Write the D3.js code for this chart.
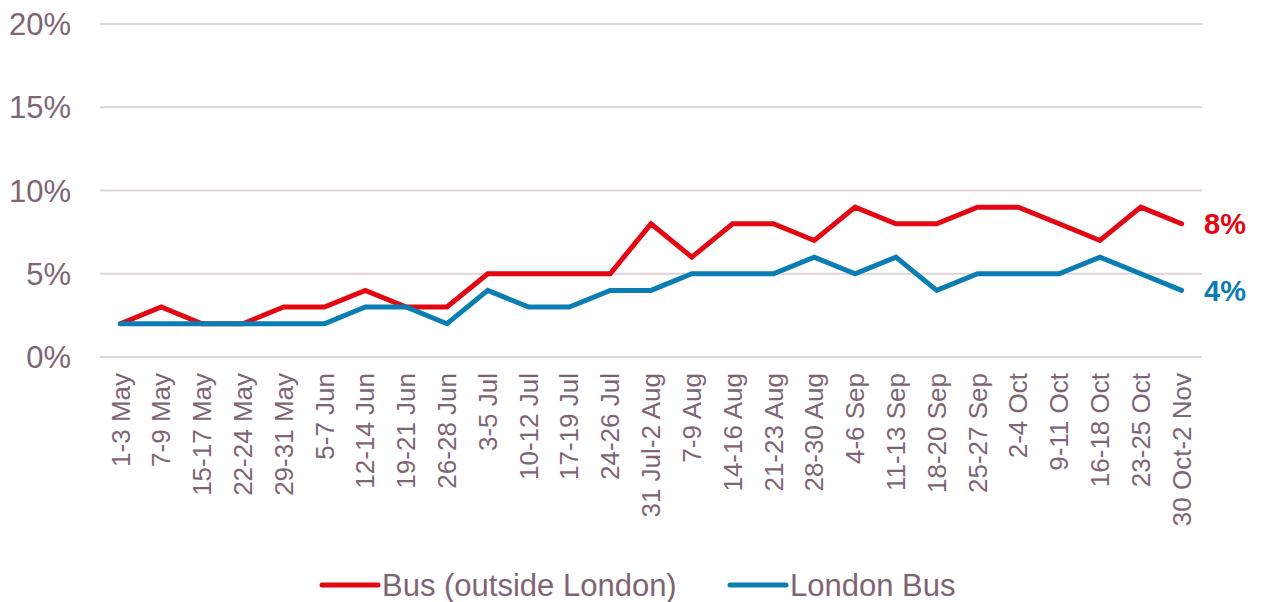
<!DOCTYPE html>
<meta charset="utf-8">
<script src="https://d3js.org/d3.v7.min.js"></script>
<style>
  body { margin: 0; background: #fff; }
  text { font-family: "Liberation Sans", Arial, sans-serif; }
</style>
<div id="chart"></div>
<script>

// week labels
var weeks = ["1-3 May", "7-9 May", "15-17 May", "22-24 May", "29-31 May", "5-7 Jun",
  "12-14 Jun", "19-21 Jun", "26-28 Jun", "3-5 Jul", "10-12 Jul", "17-19 Jul",
  "24-26 Jul", "31 Jul-2 Aug", "7-9 Aug", "14-16 Aug", "21-23 Aug", "28-30 Aug",
  "4-6 Sep", "11-13 Sep", "18-20 Sep", "25-27 Sep", "2-4 Oct", "9-11 Oct",
  "16-18 Oct", "23-25 Oct", "30 Oct-2 Nov"];

// % values
var busOutside = [2, 3, 2, 2, 3, 3, 4, 3, 3, 5, 5, 5, 5, 8, 6, 8, 8, 7, 9, 8, 8, 9, 9, 8, 7, 9, 8];
var londonBus  = [2, 2, 2, 2, 2, 2, 3, 3, 2, 4, 3, 3, 4, 4, 5, 5, 5, 6, 5, 6, 4, 5, 5, 5, 6, 5, 4];

var yTicks = [0, 5, 10, 15, 20];
var seriesNames = ["Bus (outside London)", "London Bus"];

var W = 1267, H = 602;
var red = "#e30613", blue = "#0a7db3", textCol = "#7e6574", gridCol = "#ddd5d8";

var svg = d3.select("#chart").append("svg")
    .attr("width", W)
    .attr("height", H);

var x = d3.scaleBand().domain(weeks).range([100, 1202]);
var y = d3.scaleLinear().domain([0, 20]).range([357, 24]);
var cx = function(d) { return x(d) + x.bandwidth() / 2; };

// gridlines
svg.append("g").selectAll("line")
  .data(yTicks)
  .enter().append("line")
    .attr("x1", 100).attr("x2", 1202)
    .attr("y1", function(d) { return y(d); })
    .attr("y2", function(d) { return y(d); })
    .attr("stroke", gridCol)
    .attr("stroke-width", 2);

// y labels
svg.append("g").selectAll("text")
  .data(yTicks)
  .enter().append("text")
    .attr("x", 71)
    .attr("y", function(d) { return y(d); })
    .attr("dy", "0.36em")
    .attr("text-anchor", "end")
    .style("font-size", "31px")
    .style("fill", textCol)
    .text(function(d) { return d + "%"; });

// x labels (rotated)
svg.append("g").selectAll("text")
  .data(weeks)
  .enter().append("text")
    .attr("transform", function(d) { return "translate(" + cx(d) + ",373) rotate(-90)"; })
    .attr("dy", "0.35em")
    .attr("text-anchor", "end")
    .style("font-size", "26px")
    .style("fill", textCol)
    .text(function(d) { return d; });

// lines
var line = d3.line()
    .x(function(d, i) { return cx(weeks[i]); })
    .y(function(d) { return y(d); });

[[busOutside, red], [londonBus, blue]].forEach(function(s) {
  svg.append("path")
    .datum(s[0])
    .attr("d", line)
    .attr("fill", "none")
    .attr("stroke", s[1])
    .attr("stroke-width", 5)
    .attr("stroke-linejoin", "miter")
    .attr("stroke-linecap", "round");

  // end label
  var last = s[0][s[0].length - 1];
  svg.append("text")
    .attr("x", 1204)
    .attr("y", y(last))
    .attr("dy", "0.36em")
    .style("font-size", "29px")
    .style("font-weight", "bold")
    .style("fill", s[1])
    .text(last + "%");
});

// legend
var legend = [[seriesNames[0], red, 322], [seriesNames[1], blue, 730]];
legend.forEach(function(l) {
  svg.append("line")
    .attr("x1", l[2]).attr("x2", l[2] + 56)
    .attr("y1", 585).attr("y2", 585)
    .attr("stroke", l[1])
    .attr("stroke-width", 5)
    .attr("stroke-linecap", "round");
  svg.append("text")
    .attr("x", l[2] + 60)
    .attr("y", 585)
    .attr("dy", "0.36em")
    .style("font-size", "31px")
    .style("fill", textCol)
    .text(l[0]);
});

</script>
